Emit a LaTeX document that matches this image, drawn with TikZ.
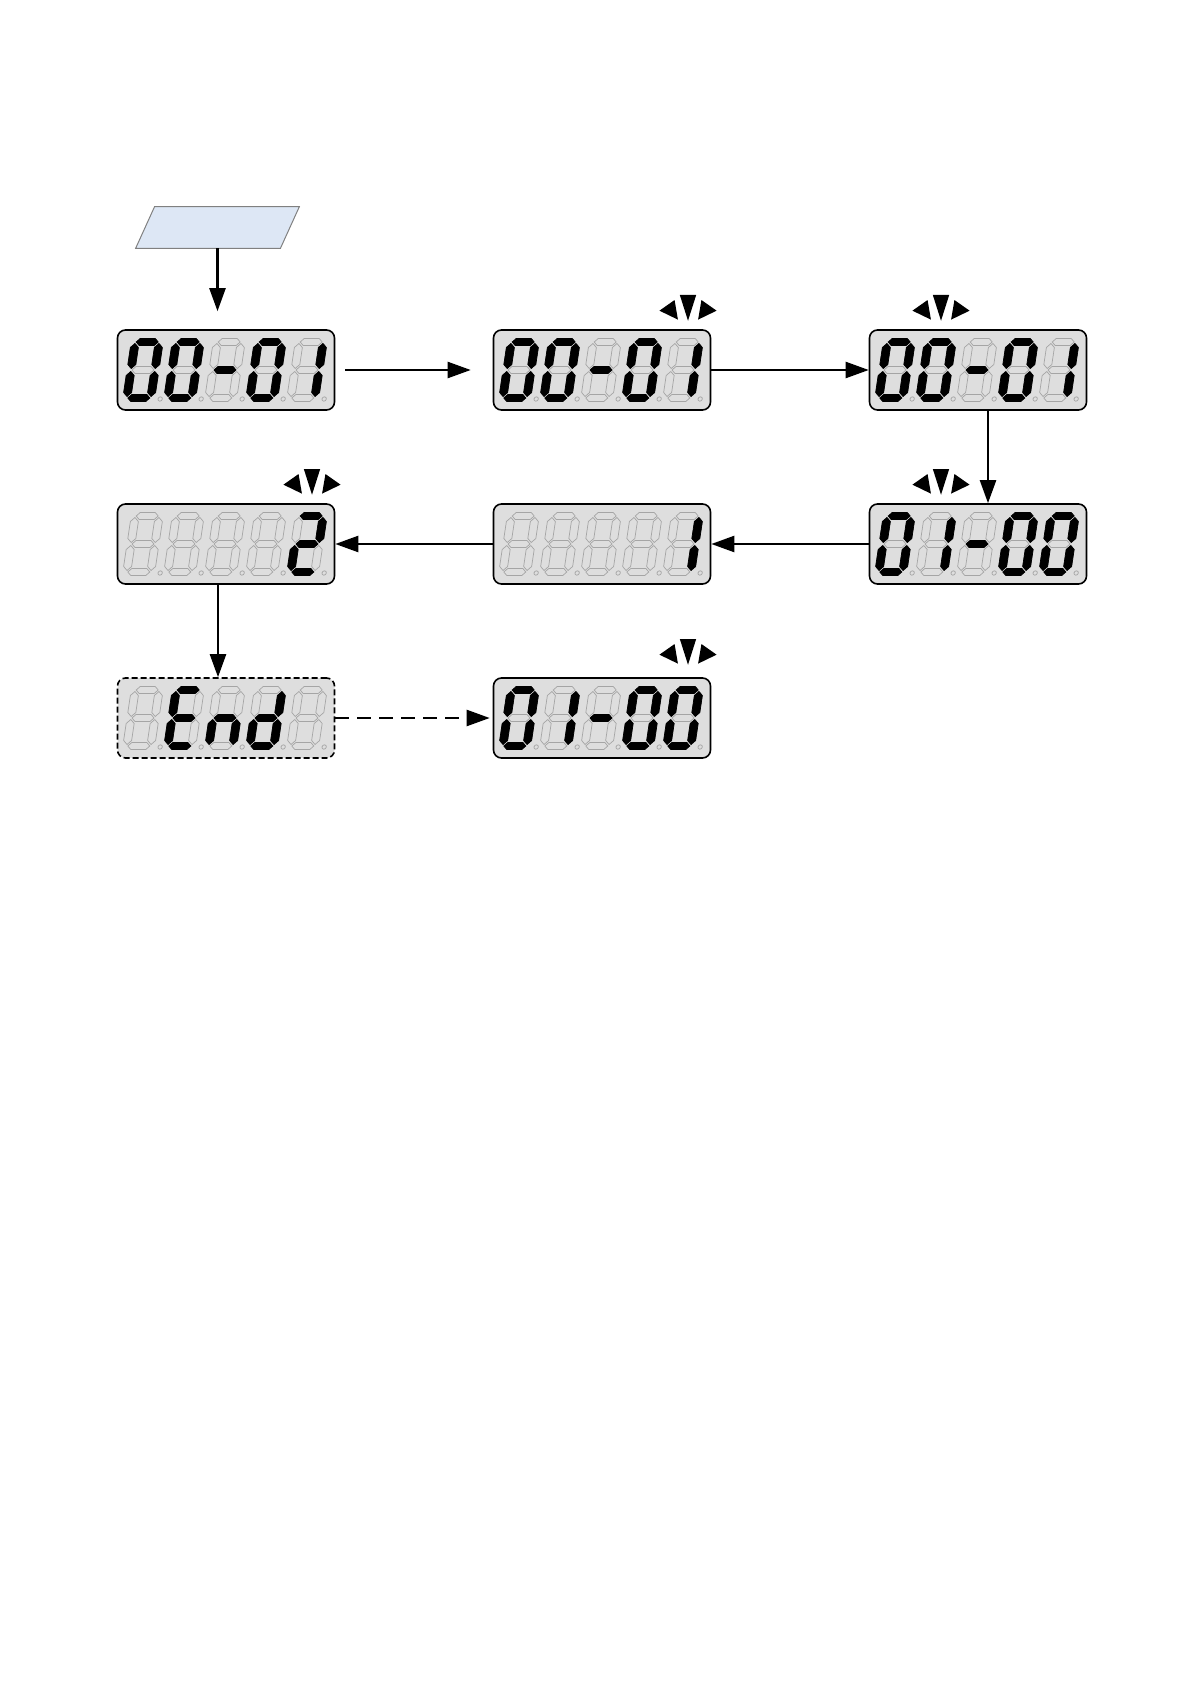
\documentclass[tikz,border=0pt]{standalone}
\usepackage{tikz}
\usetikzlibrary{arrows.meta}

\definecolor{lcdgray}{RGB}{222,222,222}
\definecolor{segoff}{RGB}{165,165,165}
\definecolor{keyblue}{RGB}{221,231,245}

% segments of one digit, digit centre at the origin, y pointing down
\newcommand{\hseg}[2]{\draw[#2] (-11,#1) -- (-7.5,#1-3.5) -- (7.5,#1-3.5) -- (11,#1) -- (7.5,#1+3.5) -- (-7.5,#1+3.5) -- cycle;}
\newcommand{\vseg}[3]{\draw[#3] (#1,#2-12.5) -- (#1+4,#2-8.5) -- (#1+4,#2+8.5) -- (#1,#2+12.5) -- (#1-4,#2+8.5) -- (#1-4,#2-8.5) -- cycle;}
\newcommand{\lcdsega}[1]{\hseg{-28}{#1}}
\newcommand{\lcdsegb}[1]{\vseg{12}{-14}{#1}}
\newcommand{\lcdsegc}[1]{\vseg{12}{14}{#1}}
\newcommand{\lcdsegd}[1]{\hseg{28}{#1}}
\newcommand{\lcdsege}[1]{\vseg{-12}{14}{#1}}
\newcommand{\lcdsegf}[1]{\vseg{-12}{-14}{#1}}
\newcommand{\lcdsegg}[1]{\hseg{0}{#1}}
\newcommand{\lcdsegx}[1]{}

\newcommand{\lcddigit}[2]{% #1 position, #2 lit segments
  \begin{scope}[shift={#1}, xslant=0.15]
    \foreach \s in {a,b,c,d,e,f,g} {\csname lcdseg\s\endcsname{segoff, line width=0.35pt}}
    \draw[segoff, line width=0.35pt] (21.5,29) circle (2.2);
    \foreach \s in {#2} {\csname lcdseg\s\endcsname{fill=black, draw=black, line width=0.35pt}}
  \end{scope}}

\newcommand{\lcdshow}[6]{% #1 display node, #2-#6 the five digits
  \begin{scope}[shift={(#1.center)}]
    \lcddigit{(-83,0)}{#2}
    \lcddigit{(-42,0)}{#3}
    \lcddigit{(-1,0)}{#4}
    \lcddigit{(40,0)}{#5}
    \lcddigit{(81,0)}{#6}
  \end{scope}}

\newcommand{\blinkmark}[2]{% marks over the blinking digit
  \begin{scope}[shift={(#1.center)}, shift={#2}, scale=1.12]
    \fill (-7.3,-12.5) -- (7.3,-12.5) -- (0,10.5) -- cycle;
    \fill (-25.5,1.5) -- (-12,-8) -- (-9,9.5) -- cycle;
    \fill (25.5,1.5) -- (12,-8) -- (9,9.5) -- cycle;
  \end{scope}}

\begin{document}
\begin{tikzpicture}[x=0.5pt, y=-0.5pt, node distance=87pt,
    lcd/.style={rectangle, draw, line width=0.8pt, fill=lcdgray, rounded corners=4pt, minimum width=108.5pt, minimum height=40pt, inner sep=0pt},
    flow/.style={-{Triangle[length=11.5pt,width=8pt]}, line width=1.15pt}]
    \useasboundingbox (0,0) rectangle (1191,1684);

    \node (keyin) [rectangle, minimum width=81.5pt, minimum height=20.5pt, inner sep=0pt] at (217.5,227.5) {};
    \draw[draw=gray, line width=0.5pt, fill=keyblue] ([xshift=9.5pt]keyin.north west) -- (keyin.north east) -- ([xshift=-9.5pt]keyin.south east) -- (keyin.south west) -- cycle;

    \node (grp) [lcd] at (226,370) {};
    \node (grpblink) [lcd, right of=grp, xshift=101pt] {};
    \node (grpset) [lcd, right of=grpblink, xshift=101pt] {};
    \node (idxblink) [lcd, below of=grpset] {};
    \node (valone) [lcd, below of=grpblink] {};
    \node (valtwo) [lcd, below of=grp] {};
    \node (done) [lcd, below of=valtwo, dash pattern=on 3pt off 1.5pt] {};
    \node (back) [lcd, below of=valone] {};

    \lcdshow{grp}{a,b,c,d,e,f}{a,b,c,d,e,f}{g}{a,b,c,d,e,f}{b,c}
    \lcdshow{grpblink}{a,b,c,d,e,f}{a,b,c,d,e,f}{g}{a,b,c,d,e,f}{b,c}
    \lcdshow{grpset}{a,b,c,d,e,f}{a,b,c,d,e,f}{g}{a,b,c,d,e,f}{b,c}
    \lcdshow{idxblink}{a,b,c,d,e,f}{b,c}{g}{a,b,c,d,e,f}{a,b,c,d,e,f}
    \lcdshow{valone}{x}{x}{x}{x}{b,c}
    \lcdshow{valtwo}{x}{x}{x}{x}{a,b,g,e,d}
    \lcdshow{done}{x}{a,d,e,f,g}{c,e,g}{b,c,d,e,g}{x}
    \lcdshow{back}{a,b,c,d,e,f}{b,c}{g}{a,b,c,d,e,f}{a,b,c,d,e,f}

    \blinkmark{grpblink}{(86,-61)}
    \blinkmark{grpset}{(-37,-61)}
    \blinkmark{idxblink}{(-37,-61)}
    \blinkmark{valtwo}{(86,-61)}
    \blinkmark{back}{(86,-65)}

    \draw[flow, shorten >=9pt] (keyin.south) -- (keyin.south |- grp.north);
    \draw[flow, shorten <=5pt, shorten >=11pt] (grp) -- (grpblink);
    \draw[flow] (grpblink) -- (grpset);
    \draw[flow] ([xshift=5pt]grpset.south) -- ([xshift=5pt]idxblink.north);
    \draw[flow] (idxblink) -- (valone);
    \draw[flow] (valone) -- (valtwo);
    \draw[flow] ([xshift=-4pt]valtwo.south) -- ([xshift=-4pt]done.north);
    \draw[flow, dash pattern=on 7pt off 4pt, shorten >=1.5pt] (done) -- (back);
\end{tikzpicture}
\end{document}
